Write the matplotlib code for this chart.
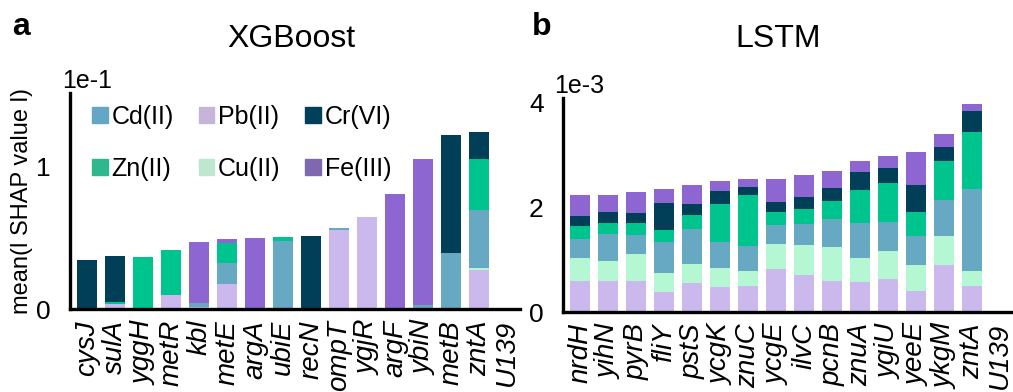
import numpy as np
import matplotlib
matplotlib.use("Agg")
import matplotlib.pyplot as plt
from matplotlib.patches import Patch

plt.rcParams['font.family'] = ['Liberation Sans', 'DejaVu Sans']

# metal ions, in stacking order from the bottom
metals = ["Pb(II)", "Cu(II)", "Cd(II)", "Zn(II)", "Cr(VI)", "Fe(III)"]
bar_colors = {"Pb(II)": "#cbb9ee", "Cu(II)": "#b5f7d2", "Cd(II)": "#67a8c3",
              "Zn(II)": "#00c48d", "Cr(VI)": "#013f58", "Fe(III)": "#8d66d1"}
legend_colors = {"Pb(II)": "#c5b5d9", "Cu(II)": "#bfe6d0", "Cd(II)": "#64a7c4",
                 "Zn(II)": "#2fb88b", "Cr(VI)": "#00405a", "Fe(III)": "#8068ae"}

# XGBoost mean |SHAP| (x 1e-1)
xgb_genes = ["cysJ", "sulA", "yggH", "metR", "kbl", "metE", "argA", "ubiE",
             "recN", "ompT", "ygjR", "argF", "ybiN", "metB", "zntA", "U139"]
xgb_pb = [0, .035, 0, .10, .016, .178, 0, 0, 0, .559, .650, .008, 0, 0, .277, 0]
xgb_cu = [0, 0, 0, 0, 0, 0, .01, 0, 0, 0, 0, 0, 0, 0, .009, 0]
xgb_cd = [0, 0, 0, 0, .028, .148, 0, .481, .01, .014, 0, 0, .03, .397, .414, 0]
xgb_zn = [0, .015, .369, .318, 0, .141, 0, .028, 0, 0, 0, 0, 0, 0, .359, 0]
xgb_cr = [.347, .32, 0, 0, 0, 0, 0, 0, .506, 0, 0, 0, 0, .831, .19, 0]
xgb_fe = [0, 0, 0, 0, .43, .028, .492, 0, 0, 0, 0, .804, 1.029, 0, 0, 0]

# LSTM mean |SHAP| (x 1e-3)
lstm_genes = ["nrdH", "yihN", "pyrB", "fliY", "pstS", "ycgK", "znuC", "ycgE",
              "ilvC", "pcnB", "znuA", "ygiU", "yeeE", "ykgM", "zntA", "U139"]
lstm_pb = [.593, .593, .593, .383, .555, .478, .498, .823, .708, .593, .574, .632, .402, .900, .498, 0]
lstm_cu = [.440, .383, .517, .363, .364, .364, .287, .478, .574, .651, .459, .535, .498, .555, .287, 0]
lstm_cd = [.364, .517, .364, .594, .670, .498, .478, .364, .402, .536, .670, .555, .555, .689, 1.569, 0]
lstm_zn = [.249, .210, .229, .229, .267, .727, .976, .249, .287, .344, .632, .747, .459, .727, 1.072, .012]
lstm_cr = [.191, .211, .192, .517, .211, .249, .153, .191, .230, .249, .325, .268, .517, .268, .402, .012]
lstm_fe = [.402, .325, .402, .268, .364, .191, .153, .440, .402, .306, .211, .230, .612, .249, .134, 0]


def stacked(ax, genes, series, ymax, ticks, exponent, exp_x):
    x = np.arange(len(genes))
    bottom = np.zeros(len(genes))
    for name, vals in zip(metals, series):
        ax.bar(x, vals, 0.72, bottom=bottom, color=bar_colors[name], linewidth=0)
        bottom += np.array(vals)
    ax.set_xlim(-0.62, 15.45)
    ax.set_ylim(0, ymax)
    ax.set_yticks(ticks)
    ax.set_yticklabels([str(t) for t in ticks])
    ax.set_xticks(x)
    ax.set_xticklabels(genes, rotation=90, fontstyle="italic", fontsize=20)
    ax.tick_params(axis="both", length=0)
    ax.tick_params(axis="y", labelsize=19, pad=14)
    ax.tick_params(axis="x", pad=8)
    for side in ("top", "right"):
        ax.spines[side].set_visible(False)
    for side in ("left", "bottom"):
        ax.spines[side].set_linewidth(2.4)
    ax.text(exp_x, 1.0, exponent, transform=ax.transAxes, fontsize=18,
            ha="left", va="bottom")


fig = plt.figure(figsize=(10.13, 3.92), dpi=100)
ax1 = fig.add_axes([0.0691, 0.2117, 0.444, 0.551])
ax2 = fig.add_axes([0.5558, 0.204, 0.444, 0.546])

stacked(ax1, xgb_genes, [xgb_pb, xgb_cu, xgb_cd, xgb_zn, xgb_cr, xgb_fe],
        1.52, [0, 1], "1e-1", -0.018)
stacked(ax2, lstm_genes, [lstm_pb, lstm_cu, lstm_cd, lstm_zn, lstm_cr, lstm_fe],
        4.08, [0, 2, 4], "1e-3", -0.02)

ax1.set_ylabel("mean(l SHAP value l)", fontsize=17, labelpad=2)

order = ["Cd(II)", "Zn(II)", "Pb(II)", "Cu(II)", "Cr(VI)", "Fe(III)"]
handles = [Patch(color=legend_colors[m]) for m in order]
ax1.legend(handles, order, ncol=3, frameon=False, fontsize=18,
           loc="upper left", bbox_to_anchor=(0.027, 0.99),
           handlelength=0.62, handleheight=0.62, handletextpad=0.15,
           columnspacing=1.0, labelspacing=1.1, borderaxespad=0)

fig.text(0.012, 0.93, "a", fontsize=23, fontweight="bold", va="center")
fig.text(0.525, 0.93, "b", fontsize=23, fontweight="bold", va="center")
fig.text(0.288, 0.9, "XGBoost", fontsize=23, ha="center", va="center")
fig.text(0.768, 0.9, "LSTM", fontsize=23, ha="center", va="center")

fig.savefig("out.png", dpi=100)
